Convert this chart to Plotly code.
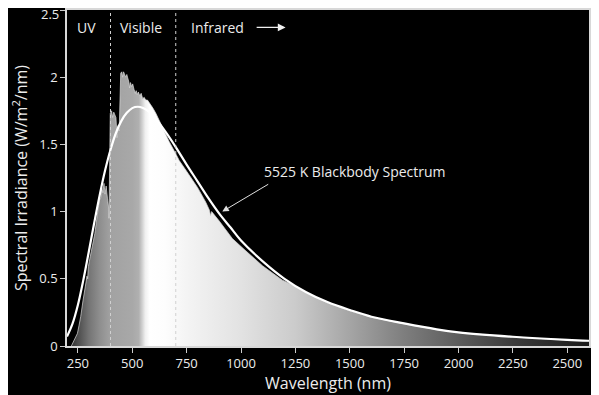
import plotly.graph_objects as go

# Solar spectrum
solar_wl = [220, 226, 235, 248, 255, 263, 274, 286, 292, 295, 298, 305, 313, 320, 328, 338, 349,
            355, 360, 365, 370, 375, 380, 386, 391, 393, 396, 399, 405, 410, 415, 420, 425, 430,
            435, 440, 443, 447, 452, 456, 460, 465, 470, 475, 480, 485, 488, 492, 497, 502, 508,
            514, 518, 523, 528, 535, 541, 548, 555, 562, 570, 578, 586, 595, 609, 620, 638, 655,
            670, 700, 716, 750, 800, 838, 855, 860, 865, 900, 960, 1000, 1040, 1083, 1100, 1190,
            1250, 1300, 1400, 1500, 1600, 1750, 1900, 2000, 2250, 2500, 2600]
solar_val = [0.0, 0.02, 0.05, 0.094, 0.15, 0.218, 0.342, 0.466, 0.52, 0.50, 0.589, 0.65, 0.713, 0.78,
             0.837, 0.96, 1.085, 1.10, 1.18, 1.14, 1.21, 1.13, 1.19, 1.10, 1.035, 0.95, 1.50, 1.73,
             1.75, 1.70, 1.74, 1.72, 1.70, 1.55, 1.64, 1.60, 1.95, 2.03, 2.04, 2.00, 2.04, 2.02, 2.00,
             2.02, 1.99, 1.96, 1.92, 1.96, 1.93, 1.95, 1.91, 1.88, 1.90, 1.87, 1.89, 1.86, 1.88, 1.84,
             1.85, 1.83, 1.83, 1.81, 1.80, 1.77, 1.73, 1.69, 1.63, 1.57, 1.52, 1.43, 1.38, 1.30, 1.18,
             1.07, 1.01, 0.97, 1.00, 0.93, 0.80, 0.74, 0.68, 0.615, 0.595, 0.49, 0.445, 0.395, 0.32,
             0.263, 0.214, 0.165, 0.122, 0.100, 0.067, 0.045, 0.038]

# 5525 K blackbody curve
bb_wl = [200, 225, 250, 275, 300, 325, 350, 375, 400, 425, 450, 475, 500, 525, 550, 575, 600,
         650, 700, 750, 800, 850, 900, 950, 1000, 1100, 1200, 1300, 1400, 1500, 1600, 1750,
         1900, 2000, 2250, 2500, 2600]
bb_val = [0.07, 0.164, 0.305, 0.49, 0.70, 0.915, 1.12, 1.305, 1.46, 1.585, 1.675, 1.735, 1.77, 1.78,
          1.77, 1.745, 1.705, 1.60, 1.48, 1.35, 1.225, 1.10, 0.985, 0.885, 0.785, 0.63, 0.50, 0.40,
          0.325, 0.268, 0.218, 0.168, 0.124, 0.102, 0.069, 0.046, 0.039]

x_ticks = [250, 500, 750, 1000, 1250, 1500, 1750, 2000, 2250, 2500]
y_ticks = [0, 0.5, 1, 1.5, 2, 2.5]
y_tick_text = ["0", "0.5", "1", "1.5", "2", "2.5"]
band_edges = [400, 700]
band_labels = ["UV", "Visible", "Infrared"]
band_label_x = [289, 541, 892]

X0, X1 = 200, 2600
def pos(w):
    return (w - X0) / (X1 - X0)

grad = [
    (220, "#303030"), (250, "#4c4c4c"), (300, "#747474"), (350, "#8e8e8e"), (400, "#a2a2a2"),
    (500, "#a8a8a8"), (530, "#b0b0b0"), (545, "#cfcfcf"), (560, "#f0f0f0"), (580, "#ffffff"),
    (650, "#fdfdfd"), (750, "#f4f4f4"), (1000, "#e2e2e2"), (1250, "#cbcbcb"), (1500, "#a5a5a5"),
    (1750, "#7e7e7e"), (2000, "#5c5c5c"), (2250, "#3c3c3c"), (2500, "#242424"), (2600, "#1a1a1a"),
]
colorscale = [[0.0, "#303030"]] + [[pos(w), c] for w, c in grad]

FONT = "Open Sans"
TXT = "#ececec"

fig = go.Figure()
fig.add_trace(go.Scatter(
    x=solar_wl, y=solar_val, mode="lines", fill="tozeroy",
    line=dict(color="rgba(215,215,215,0.9)", width=0.8),
    fillgradient=dict(type="horizontal", colorscale=colorscale, start=X0, stop=X1),
    hoverinfo="skip", showlegend=False,
))
fig.add_trace(go.Scatter(
    x=bb_wl, y=bb_val, mode="lines", line=dict(color="white", width=2.2, shape="spline"),
    hoverinfo="skip", showlegend=False,
))

shapes = [dict(type="line", xref="x", yref="y", x0=e, x1=e, y0=0, y1=2.5,
               line=dict(color="#d0d0d0", width=1, dash="dot"), layer="above") for e in band_edges]

annotations = []
for lab, lx in zip(band_labels, band_label_x):
    annotations.append(dict(x=lx, y=2.37, xref="x", yref="y", text=lab, showarrow=False,
                            font=dict(family=FONT, size=14, color=TXT)))
annotations.append(dict(x=1205, y=2.37, ax=1065, ay=2.37, xref="x", yref="y", axref="x", ayref="y",
                        text="", showarrow=True, arrowhead=2, arrowsize=1.3, arrowwidth=1.2,
                        arrowcolor="#f0f0f0"))
annotations.append(dict(x=914, y=1.0, ax=1132, ay=1.21, xref="x", yref="y", axref="x", ayref="y",
                        text="", showarrow=True, arrowhead=2, arrowsize=1.3, arrowwidth=1,
                        arrowcolor="#e0e0e0"))
annotations.append(dict(x=1526, y=1.30, xref="x", yref="y", text="5525 K Blackbody Spectrum",
                        showarrow=False, font=dict(family=FONT, size=14, color=TXT)))
# top tick label drawn as annotation, nudged down so it is not clipped at the page edge
annotations.append(dict(x=0, xref="paper", y=y_ticks[-1], yref="y", text=y_tick_text[-1],
                        showarrow=False, xanchor="right", yanchor="middle", xshift=-6, yshift=-4,
                        font=dict(family=FONT, size=13, color=TXT)))

# The page body adds an 8px offset; margins compensate so the plot lands where the reference has it.
fig.update_layout(
    width=599, height=395, autosize=False,
    paper_bgcolor="black", plot_bgcolor="black",
    margin=dict(l=59, r=18, t=2, b=57, pad=0, autoexpand=False),
    font=dict(family=FONT, color=TXT),
    shapes=shapes, annotations=annotations,
    xaxis=dict(range=[X0, X1], tickvals=x_ticks, ticktext=[str(v) for v in x_ticks],
               ticks="outside", ticklen=5, tickcolor="#cccccc", showgrid=False, zeroline=False,
               showline=True, linecolor="#d8d8d8", linewidth=1.5, mirror=True, automargin=False,
               tickfont=dict(size=13, color=TXT),
               title=dict(text="Wavelength (nm)", font=dict(size=16, color=TXT), standoff=0)),
    yaxis=dict(range=[0, 2.5], tickvals=y_ticks, ticktext=y_tick_text[:-1] + [""],
               ticks="outside", ticklen=5, tickcolor="#cccccc", showgrid=False, zeroline=False,
               showline=True, linecolor="#d8d8d8", linewidth=1.5, mirror=True, automargin=False,
               tickfont=dict(size=13, color=TXT),
               title=dict(text="Spectral Irradiance (W/m<sup>2</sup>/nm)",
                          font=dict(size=16, color=TXT), standoff=10)),
)

fig.write_html("out.html")
